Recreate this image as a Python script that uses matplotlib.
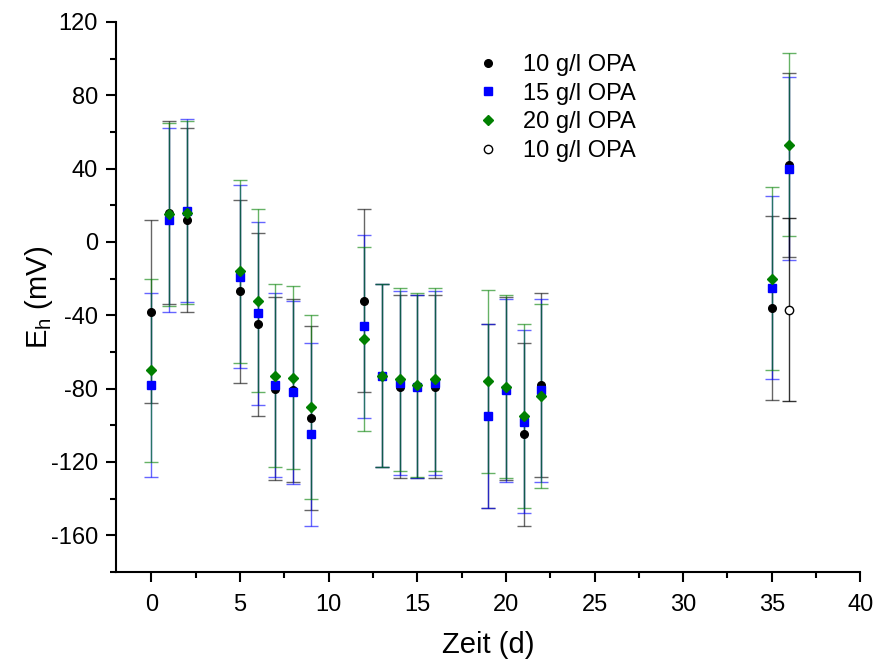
import matplotlib
matplotlib.use("Agg")
import matplotlib.pyplot as plt
from matplotlib.ticker import MultipleLocator

plt.rcParams['font.family'] = ['Liberation Sans', 'DejaVu Sans']
plt.rcParams['axes.unicode_minus'] = False

# Time points (days)
days = [0, 1, 2, 5, 6, 7, 8, 9, 12, 13, 14, 15, 16, 19, 20, 21, 22, 35, 36]

# Redox potential Eh (mV) per OPA concentration
eh_10 = [-38, 16, 12, -27, -45, -80, -81, -96, -32, -73, -79, -79, -79, -95, -80, -105, -78, -36, 42]
eh_15 = [-78, 12, 17, -19, -39, -78, -82, -105, -46, -73, -77, -79, -77, -95, -81, -98, -81, -25, 40]
eh_20 = [-70, 15, 16, -16, -32, -73, -74, -90, -53, -73, -75, -78, -75, -76, -79, -95, -84, -20, 53]
err = 50

# Separate reading at day 36 (open symbol)
days_open = [36]
eh_10_open = [-37]

series = [
    (eh_10, 'o', 'black', 5.5, '10 g/l OPA'),
    (eh_15, 's', 'blue', 5.2, '15 g/l OPA'),
    (eh_20, 'D', 'green', 5.2, '20 g/l OPA'),
]

fig = plt.figure(figsize=(8.82, 6.62), dpi=100)
ax = fig.add_axes([0.1315, 0.136, 0.844, 0.831])

for vals, mk, col, ms, lab in series:
    ax.errorbar(days, vals, yerr=err, fmt='none', ecolor=col,
                elinewidth=1.0, capsize=5, capthick=1.0, alpha=0.6, zorder=2)
    ax.plot(days, vals, linestyle='none', marker=mk, mfc=col, mec=col, ms=ms,
            label=lab, zorder=3)

ax.errorbar(days_open, eh_10_open, yerr=err, fmt='none', ecolor='black',
            elinewidth=1.0, capsize=5, capthick=1.0, alpha=0.8, zorder=2)
ax.plot(days_open, eh_10_open, linestyle='none', marker='o', mfc='white',
        mec='black', ms=6, mew=1.0, label='10 g/l OPA', zorder=3)

ax.set_xlim(-2, 40)
ax.set_ylim(-180, 120)
ax.xaxis.set_major_locator(MultipleLocator(5))
ax.xaxis.set_minor_locator(MultipleLocator(2.5))
ax.yaxis.set_major_locator(MultipleLocator(40))
ax.yaxis.set_minor_locator(MultipleLocator(20))

for side in ('top', 'right'):
    ax.spines[side].set_visible(False)
for side in ('left', 'bottom'):
    ax.spines[side].set_linewidth(1.5)

ax.tick_params(which='major', direction='out', length=7, width=1.5,
               labelsize=17, pad=6)
ax.tick_params(axis='x', which='major', pad=9)
ax.tick_params(which='minor', direction='out', length=4, width=1.5)

ax.set_xlabel('Zeit (d)', fontsize=21, labelpad=11)
ax.set_ylabel('E$_\\mathregular{h}$ (mV)', fontsize=21, labelpad=-3)

ax.legend(loc='upper left', bbox_to_anchor=(0.455, 0.98), frameon=False,
          fontsize=17, handletextpad=1.0, labelspacing=0.28, markerscale=1.0,
          handlelength=1.0)

fig.savefig('out.png', dpi=100)
